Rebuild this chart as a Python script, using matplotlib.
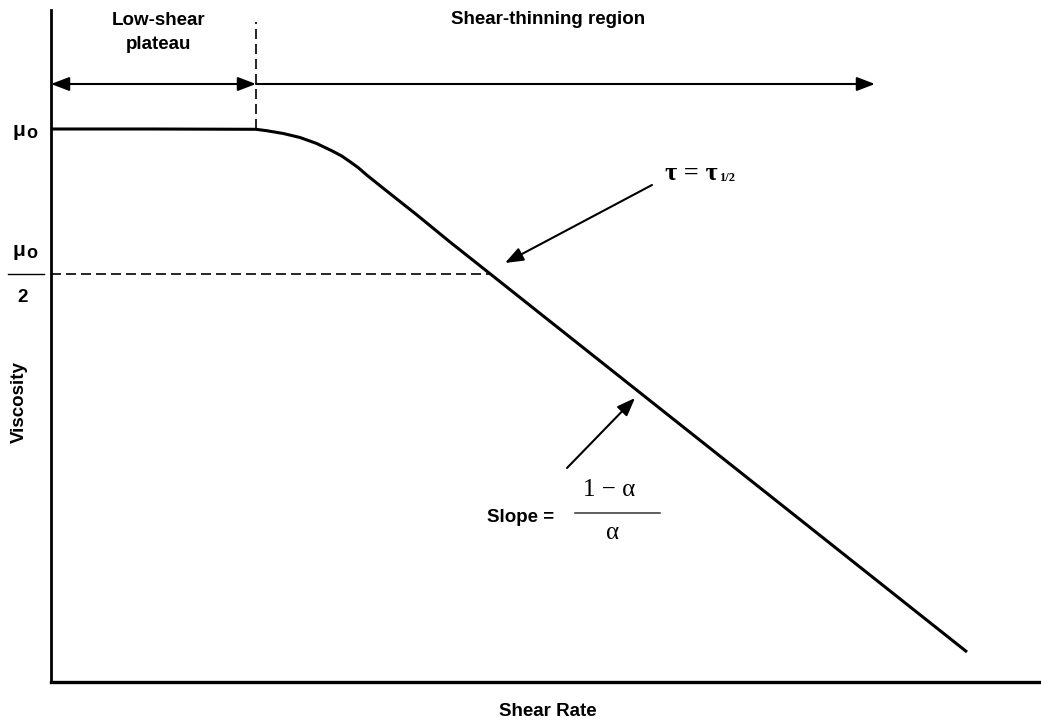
import numpy as np
import matplotlib
matplotlib.use('Agg')
import matplotlib.pyplot as plt

# viscosity curve (arbitrary units)
shear_rate = [0, 10, 20.5, 21.57, 23.23, 24.9, 26.57, 28.23, 29.07, 29.9, 30.73,
              31.57, 33.23, 36.6, 39.9, 43.9, 48.9, 58.9, 73.9, 91.6]
viscosity = [55.3, 55.3, 55.27, 55.13, 54.85, 54.45, 53.85, 53.05, 52.6, 52.03,
             51.43, 50.7, 49.37, 46.7, 44.0, 40.83, 36.86, 28.93, 17.04, 3.0]

mu0 = 55.3
mu_half = 40.85
plateau_end = 20.5
x_half = 43.9
region_arrow_y = 59.8
region_arrow_end = 82.4

sans = 'Liberation Sans'
serif = 'Liberation Serif'
arrow_style = '-|>,head_length=1.1,head_width=0.42'

fig = plt.figure(figsize=(10.41, 7.22), dpi=100)
ax = fig.add_axes([51 / 1041, 40 / 722, 990 / 1041, 672.5 / 722])
ax.set_xlim(0, 99)
ax.set_ylim(0, 67.25)

# main curve
ax.plot(shear_rate, viscosity, color='black', lw=2.2, solid_capstyle='butt',
        solid_joinstyle='round', clip_on=False)

# dashed guides
ax.plot([plateau_end, plateau_end], [mu0, 66.0], color='black', lw=1.2,
        dashes=(6, 3))
ax.plot([0, x_half], [mu_half, mu_half], color='black', lw=1.2, dashes=(6, 3))

# region arrows
ax.annotate('', xy=(plateau_end, region_arrow_y), xytext=(0, region_arrow_y),
            arrowprops=dict(arrowstyle='<|-|>,head_length=1.1,head_width=0.42',
                            color='black', lw=1.5, shrinkA=0, shrinkB=0))
ax.annotate('', xy=(region_arrow_end, region_arrow_y),
            xytext=(plateau_end, region_arrow_y),
            arrowprops=dict(arrowstyle=arrow_style,
                            color='black', lw=1.5, shrinkA=0, shrinkB=0))

ax.text(10.8, 64.95, 'Low-shear\nplateau', ha='center', va='center',
        fontsize=13.5, fontweight='bold', family=sans, linespacing=1.5)
ax.text(49.7, 66.3, 'Shear-thinning region', ha='center', va='center',
        fontsize=13.5, fontweight='bold', family=sans)

# mu_o labels on the y axis
ax.text(-3.9, mu0 - 0.1, 'μ', ha='left', va='center', fontsize=15,
        fontweight='bold', family=sans, clip_on=False)
ax.text(-2.5, mu0 - 0.5, 'o', ha='left', va='center', fontsize=13,
        fontweight='bold', family=sans, clip_on=False)
ax.text(-3.9, 43.2, 'μ', ha='left', va='center', fontsize=15,
        fontweight='bold', family=sans, clip_on=False)
ax.text(-2.5, 42.8, 'o', ha='left', va='center', fontsize=13,
        fontweight='bold', family=sans, clip_on=False)
ax.plot([-4.3, -0.7], [40.8, 40.8], color='black', lw=1.0, clip_on=False)
ax.text(-2.8, 38.5, '2', ha='center', va='center', fontsize=13.5,
        fontweight='bold', family=sans, clip_on=False)

# tau annotation
ax.annotate('', xy=(45.4, 41.9), xytext=(60.1, 49.7),
            arrowprops=dict(arrowstyle=arrow_style,
                            color='black', lw=1.5, shrinkA=0, shrinkB=0))
tau = ax.text(61.4, 50.9, 'τ = τ', ha='left', va='center', fontsize=19,
              family=serif, fontweight='bold')
fig.canvas.draw()
bb = tau.get_window_extent().transformed(ax.transData.inverted())
ax.text(bb.x1 + 0.1, 50.4, '1/2', ha='left', va='center', fontsize=9,
        family=serif, fontweight='bold')

# slope annotation
ax.annotate('', xy=(58.4, 28.4), xytext=(51.6, 21.4),
            arrowprops=dict(arrowstyle=arrow_style,
                            color='black', lw=1.5, shrinkA=0, shrinkB=0))
ax.text(43.6, 16.5, 'Slope =', ha='left', va='center', fontsize=13.5,
        fontweight='bold', family=sans)
ax.text(55.8, 19.2, '1 − α', ha='center', va='center', fontsize=18,
        family=serif)
ax.plot([52.4, 60.9], [16.9, 16.9], color='#333333', lw=1.1)
ax.text(56.2, 14.9, 'α', ha='center', va='center', fontsize=18,
        family=serif)

# axes look
for side in ['top', 'right']:
    ax.spines[side].set_visible(False)
ax.spines['left'].set_linewidth(2.0)
ax.spines['bottom'].set_linewidth(2.4)
ax.set_xticks([])
ax.set_yticks([])

fig.text(548 / 1041, 1 - 712 / 722, 'Shear Rate', ha='center', va='center',
         fontsize=13.5, fontweight='bold', family=sans)
fig.text(19 / 1041, 1 - 402 / 722, 'Viscosity', ha='center', va='center',
         rotation=90, fontsize=13.5, fontweight='bold', family=sans)

fig.savefig('out.png', dpi=100)
